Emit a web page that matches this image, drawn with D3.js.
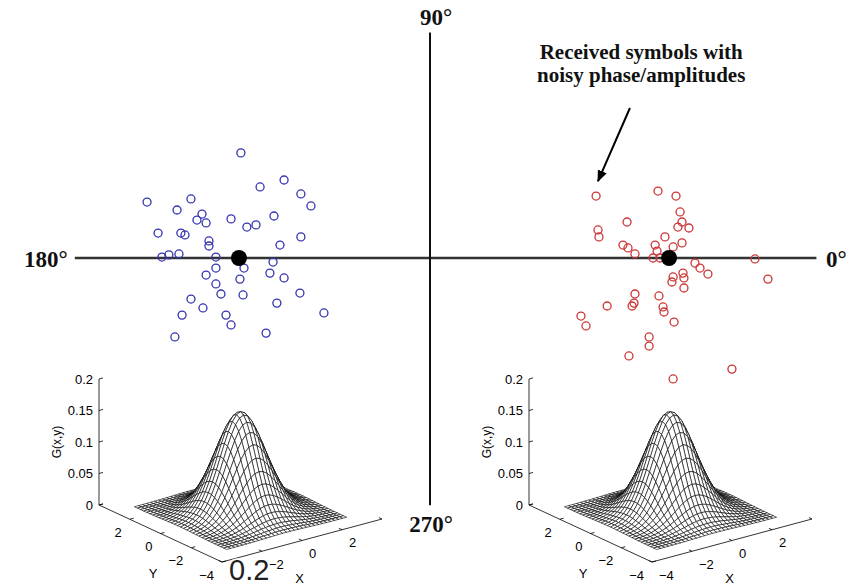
<!DOCTYPE html>
<html lang="en">
  <head>
    <meta charset="UTF-8" />
    <title>Received symbols constellation</title>
    <script src="https://d3js.org/d3.v7.min.js"></script>
    <style>
      body {
        margin: 0;
        background: #fff;
      }
      svg {
        display: block;
      }
    </style>
  </head>
  <body>
    <svg id="chart" width="858" height="586"></svg>

    <script>
      // received symbols, in units of the constellation plane (I, Q)
      const blueX = [-0.788, -0.608, -0.708, -0.538, -0.496, -1.179, -0.996, -1.054, -0.95, -0.971, -0.933, -0.829, -0.65, -0.763, -0.725, -1.133, -1.038, -1.021, -0.538, -0.921, -0.921, -0.625, -1.117, -1.088, -1.046, -0.892, -0.654, -0.775, -0.892, -0.933, -0.667, -0.608, -0.792, -0.892, -0.871, -0.779, -0.542, -0.996, -0.638, -0.946, -1.033, -0.85, -0.442, -0.829, -0.683, -1.063];
      const blueY = [0.438, 0.325, 0.296, 0.267, 0.217, 0.233, 0.246, 0.2, 0.183, 0.158, 0.146, 0.163, 0.175, 0.129, 0.138, 0.104, 0.104, 0.096, 0.088, 0.071, 0.05, 0.054, 0.004, 0.013, 0.017, 0.004, -0.017, -0.042, -0.042, -0.071, -0.063, -0.083, -0.088, -0.108, -0.15, -0.154, -0.146, -0.171, -0.188, -0.208, -0.238, -0.238, -0.229, -0.279, -0.313, -0.329];
      const redX = [0.692, 0.95, 1.025, 1.042, 1.05, 1.033, 1.079, 0.821, 0.7, 0.704, 0.804, 0.825, 0.854, 0.979, 0.938, 1.013, 1.05, 0.946, 0.929, 0.958, 1.354, 1.104, 1.125, 1.158, 1.054, 1.013, 1.008, 1.058, 1.058, 1.408, 0.854, 0.954, 0.738, 0.842, 0.85, 0.971, 0.975, 0.629, 0.65, 1.017, 0.913, 0.913, 0.829, 1.258, 1.013];
      const redY = [0.258, 0.279, 0.258, 0.192, 0.15, 0.129, 0.125, 0.15, 0.117, 0.088, 0.054, 0.042, 0.017, 0.088, 0.054, 0.046, 0.063, 0.029, 0, 0, -0.004, -0.021, -0.042, -0.067, -0.063, -0.079, -0.1, -0.083, -0.125, -0.088, -0.15, -0.158, -0.2, -0.2, -0.188, -0.204, -0.225, -0.242, -0.283, -0.267, -0.329, -0.367, -0.408, -0.463, -0.504];
      const centroidX = [-0.796, 0.996];
      const centroidY = [0, 0];

      const angleLabels = ["0°", "90°", "180°", "270°"];
      const noteLines = ["Received symbols with", "noisy phase/amplitudes"];

      // Gaussian surface insets
      const sigma = 1;
      const gridMin = -3, gridMax = 3, gridStep = 0.2;
      const xTicks = [-4, -2, 0, 2];
      const yTicks = [2, 0, -2, -4];
      const zTicks = [0, 0.05, 0.1, 0.15, 0.2];
      const zTickLabels = ["0", "0.05", "0.1", "0.15", "0.2"];

      const svg = d3.select("#chart");

      const x = d3.scaleLinear().domain([-1, 1]).range([190, 670]);
      const y = d3.scaleLinear().domain([-1, 1]).range([498, 18]);

      const fmtMinus = (v) => String(v).replace("-", "\u2212");

      // ---- insets first (drawn under the main plane) ----
      function G(a, b) {
        return (
          Math.exp(-(a * a + b * b) / (2 * sigma * sigma)) /
          (2 * Math.PI * sigma * sigma)
        );
      }

      const gx = d3.range(gridMin, gridMax + gridStep / 2, gridStep);
      const zScale = d3.scaleLinear().domain([0, 0.2]).range([0, 126]);
      const px = d3.scaleLinear().domain([-4, 4]).range([-80, 80]); // x dir, horizontal part
      const pxv = d3.scaleLinear().domain([-4, 4]).range([21.5, -21.5]); // x dir, vertical part
      const py = d3.scaleLinear().domain([-4, 4]).range([61.5, -61.5]);
      const pyv = d3.scaleLinear().domain([-4, 4]).range([28.5, -28.5]);

      function drawSurface(ox, oy, hideX) {
        const P = (a, b, c) => [
          ox + px(a) + py(b),
          oy + pxv(a) + pyv(b) - zScale(c),
        ];
        const g = svg.append("g");

        // quads, far to near
        const quads = [];
        for (let i = 0; i < gx.length - 1; i++) {
          for (let j = 0; j < gx.length - 1; j++) {
            const a0 = gx[i], a1 = gx[i + 1], b0 = gx[j], b1 = gx[j + 1];
            const depth = 5.375 * (a0 + a1) + 7.125 * (b0 + b1);
            quads.push({
              depth,
              pts: [
                P(a0, b0, G(a0, b0)),
                P(a1, b0, G(a1, b0)),
                P(a1, b1, G(a1, b1)),
                P(a0, b1, G(a0, b1)),
              ],
            });
          }
        }
        quads.sort((p, q) => q.depth - p.depth);
        g.selectAll("path.q")
          .data(quads)
          .enter()
          .append("path")
          .attr("d", (d) => "M" + d.pts.join("L") + "Z")
          .attr("fill", "#fff")
          .attr("stroke", "#000")
          .attr("stroke-width", 0.6)
          .attr("stroke-linejoin", "round");

        // axes
        const ax = g.append("g").attr("stroke", "#000").attr("stroke-width", 0.8);
        const line = (p, q) =>
          ax.append("line")
            .attr("x1", p[0]).attr("y1", p[1])
            .attr("x2", q[0]).attr("y2", q[1]);
        line(P(-4, 4, 0), P(-4, 4, 0.2));
        line(P(-4, 4, 0), P(-4, -4, 0));
        line(P(-4, -4, 0), P(4, -4, 0));
        xTicks.concat([4]).forEach((t) => line(P(t, -4, 0), P(t, -3.8, 0)));
        yTicks.concat([4]).forEach((t) => line(P(-4, t, 0), P(-3.8, t, 0)));
        zTicks.forEach((t) => line(P(-4, 4, t), P(-3.8, 4, t)));

        const lab = g.append("g")
          .attr("font-family", "'Liberation Sans', Arial, sans-serif")
          .attr("font-size", 13)
          .attr("fill", "#000");
        xTicks.filter((t) => hideX.indexOf(t) < 0).forEach((t) => {
          const p = P(t, -4, 0);
          lab.append("text").attr("x", p[0] + 7).attr("y", p[1] + 17.5)
            .attr("text-anchor", "start").text(fmtMinus(t));
        });
        yTicks.forEach((t) => {
          const p = P(-4, t, 0);
          lab.append("text").attr("x", p[0] - 8).attr("y", p[1] + 17.5)
            .attr("text-anchor", "end").text(fmtMinus(t));
        });
        zTicks.forEach((t, i) => {
          const p = P(-4, 4, t);
          lab.append("text").attr("x", p[0] - 6).attr("y", p[1] + 4.5)
            .attr("text-anchor", "end").text(zTickLabels[i]);
        });
        const yl = P(-4, 0, 0);
        lab.append("text").attr("x", yl[0] - 7.5).attr("y", yl[1] + 44)
          .attr("text-anchor", "middle").text("Y");
        const xl = P(0, -4, 0);
        lab.append("text").attr("x", xl[0] - 2.5).attr("y", xl[1] + 42)
          .attr("text-anchor", "middle").text("X");
        const zl = P(-4, 4, 0.1);
        lab.append("text")
          .attr("transform", `translate(${zl[0] - 38},${zl[1]}) rotate(-90)`)
          .attr("text-anchor", "middle")
          .attr("font-size", 12)
          .text("G(x,y)");
        return P;
      }

      // the left inset's "-4" x label is covered by the stray "0.2"
      const leftP = drawSurface(240.5, 512, [-4]);
      drawSurface(670.5, 512, []);

      // stray "0.2" label overprinted on the left inset
      const stray = leftP(-4, -4, 0);
      svg.append("text")
        .attr("x", stray[0] + 7)
        .attr("y", stray[1] + 18)
        .attr("font-family", "'Liberation Sans', Arial, sans-serif")
        .attr("font-size", 29)
        .attr("fill", "#222")
        .attr("stroke", "#fff")
        .attr("stroke-width", 3)
        .attr("paint-order", "stroke")
        .text("0.2");

      // ---- constellation plane ----
      svg.append("line")
        .attr("x1", x(-1.48)).attr("x2", x(1.61))
        .attr("y1", y(0)).attr("y2", y(0))
        .attr("stroke", "#333").attr("stroke-width", 2.4);
      svg.append("line")
        .attr("x1", x(0)).attr("x2", x(0))
        .attr("y1", y(0.94)).attr("y2", y(-1.03))
        .attr("stroke", "#111").attr("stroke-width", 2);

      const serif = "'Liberation Serif', 'Times New Roman', serif";
      const deg = svg.append("g")
        .attr("font-family", serif)
        .attr("font-weight", "bold")
        .attr("font-size", 23)
        .attr("fill", "#111");
      deg.append("text").attr("x", x(1.65)).attr("y", y(0) + 9)
        .attr("text-anchor", "start").text(angleLabels[0]);
      deg.append("text").attr("x", x(0.025)).attr("y", y(0.97))
        .attr("text-anchor", "middle").text(angleLabels[1]);
      deg.append("text").attr("x", x(-1.51)).attr("y", y(0) + 9)
        .attr("text-anchor", "end").text(angleLabels[2]);
      deg.append("text").attr("x", x(0.005)).attr("y", y(-1.14))
        .attr("text-anchor", "middle").text(angleLabels[3]);

      const blue = blueX.map((v, i) => [v, blueY[i]]);
      const red = redX.map((v, i) => [v, redY[i]]);

      svg.append("g").selectAll("circle")
        .data(blue).enter().append("circle")
        .attr("cx", (d) => x(d[0])).attr("cy", (d) => y(d[1]))
        .attr("r", 4).attr("fill", "none")
        .attr("stroke", "#3434b0").attr("stroke-width", 1.3);
      svg.append("g").selectAll("circle")
        .data(red).enter().append("circle")
        .attr("cx", (d) => x(d[0])).attr("cy", (d) => y(d[1]))
        .attr("r", 4).attr("fill", "none")
        .attr("stroke", "#cc3535").attr("stroke-width", 1.3);

      svg.append("g").selectAll("circle")
        .data(centroidX).enter().append("circle")
        .attr("cx", (d) => x(d)).attr("cy", (d, i) => y(centroidY[i]))
        .attr("r", 8).attr("fill", "#000");

      // annotation + arrow
      const note = svg.append("g")
        .attr("font-family", serif)
        .attr("font-weight", "bold")
        .attr("font-size", 21)
        .attr("fill", "#111")
        .attr("text-anchor", "middle");
      noteLines.forEach((t, i) => {
        note.append("text").attr("x", x(0.88)).attr("y", y(0.83) + i * 23).text(t);
      });

      svg.append("defs").append("marker")
        .attr("id", "head").attr("viewBox", "0 0 10 10")
        .attr("refX", 9).attr("refY", 5)
        .attr("markerWidth", 6).attr("markerHeight", 6)
        .attr("orient", "auto")
        .append("path").attr("d", "M0,1L10,5L0,9Z").attr("fill", "#000");
      svg.append("line")
        .attr("x1", x(0.833)).attr("y1", y(0.625))
        .attr("x2", x(0.7)).attr("y2", y(0.32))
        .attr("stroke", "#000").attr("stroke-width", 2)
        .attr("marker-end", "url(#head)");
    </script>
  </body>
</html>
